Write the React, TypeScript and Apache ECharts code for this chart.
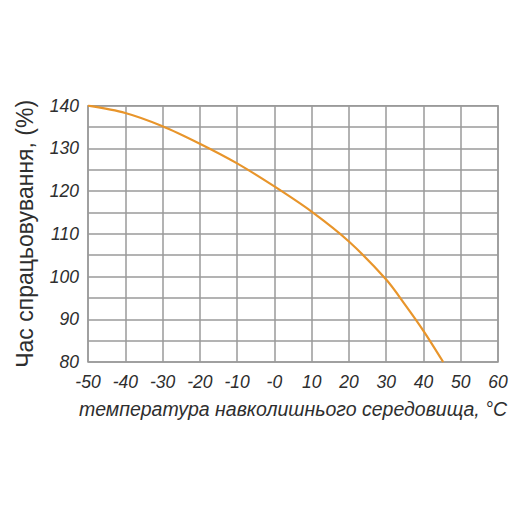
import React, { useEffect, useRef } from "react";
import * as echarts from "echarts";

const temperatures = [-50, -40, -30, -20, -10, 0, 10, 20, 30, 35, 40, 45.3];
const tripTime = [140, 138.3, 135.2, 131.1, 126.5, 121.1, 115.2, 108.2, 99.3, 93.5, 87.3, 80];
const xTitle = "температура навколишнього середовища, °С";
const yTitle = "Час спрацьовування, (%)";

const FONT = "'Liberation Sans', Arial, sans-serif";
const TEXT = "#2e2e2e";
const GRIDC = "#9a9a9a";

export default function App() {
  const ref = useRef<HTMLDivElement>(null);
  useEffect(() => {
    if (!ref.current) return;
    const chart = echarts.init(ref.current, null, { renderer: "svg" });
    const gridLine = { show: true, lineStyle: { color: GRIDC, width: 1.5 } };
    chart.setOption({
      animation: false,
      backgroundColor: "#ffffff",
      grid: {
        left: 88,
        right: 22,
        top: 105.7,
        bottom: 158,
        containLabel: false,
        outerBoundsMode: "none",
        show: true,
        borderColor: GRIDC,
        borderWidth: 1.5,
      },
      xAxis: {
        type: "value",
        min: -50,
        max: 60,
        interval: 10,
        name: xTitle,
        nameLocation: "middle",
        nameGap: 37,
        nameTextStyle: { fontFamily: FONT, fontStyle: "italic", fontSize: 19.5, color: TEXT },
        axisLine: { show: false },
        axisTick: { show: false },
        splitLine: gridLine,
        axisLabel: {
          margin: 11,
          fontFamily: FONT,
          fontStyle: "italic",
          fontSize: 17.5,
          color: TEXT,
          formatter: (v: number) => (v === 0 ? "-0" : String(v)),
        },
      },
      yAxis: {
        type: "value",
        min: 80,
        max: 140,
        interval: 5,
        name: yTitle,
        nameLocation: "middle",
        nameRotate: 90,
        nameGap: 52,
        nameTextStyle: { fontFamily: FONT, fontSize: 23, color: TEXT },
        axisLine: { show: false },
        axisTick: { show: false },
        splitLine: gridLine,
        axisLabel: {
          margin: 9,
          fontFamily: FONT,
          fontStyle: "italic",
          fontSize: 17.5,
          color: TEXT,
          formatter: (v: number) => (v % 10 === 0 ? String(v) : ""),
        },
      },
      series: [
        {
          type: "line",
          smooth: 0.3,
          showSymbol: false,
          data: temperatures.map((t, i) => [t, tripTime[i]]),
          lineStyle: { color: "#e8952b", width: 2.2 },
        },
      ],
    });
    return () => chart.dispose();
  }, []);
  return <div ref={ref} style={{ position: "fixed", left: 0, top: 0, width: 520, height: 520 }} />;
}
